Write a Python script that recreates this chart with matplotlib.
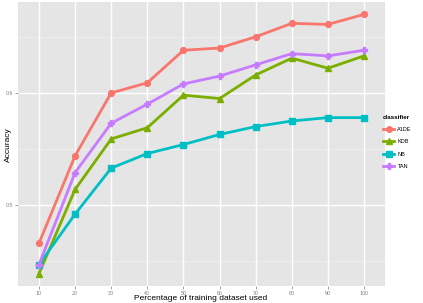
import matplotlib
matplotlib.use("Agg")
import matplotlib.pyplot as plt
from matplotlib.lines import Line2D

pct = [10, 20, 30, 40, 50, 60, 70, 80, 90, 100]
a1de = [0.466, 0.544, 0.600, 0.609, 0.638, 0.640, 0.650, 0.662, 0.661, 0.670]
kdb = [0.439, 0.514, 0.559, 0.569, 0.598, 0.595, 0.616, 0.631, 0.622, 0.633]
nb = [0.447, 0.492, 0.533, 0.546, 0.554, 0.563, 0.570, 0.575, 0.578, 0.578]
tan = [0.447, 0.529, 0.573, 0.590, 0.608, 0.615, 0.625, 0.635, 0.633, 0.638]
names = ["A1DE", "KDB", "NB", "TAN"]
series = [a1de, kdb, nb, tan]
colors = ["#F8766D", "#7CAE00", "#00BFC4", "#C77CFF"]
markers = ["o", "^", "s", "P"]

plt.rcParams["font.family"] = ["Liberation Sans", "DejaVu Sans"]

fig = plt.figure(figsize=(4.23, 3.03), dpi=100)
ax = fig.add_axes([18/423, 1 - 286/303, (385-18)/423, (286-2)/303])
ax.set_facecolor("#E5E5E5")
for s in ax.spines.values():
    s.set_visible(False)

for name, vals, c, m in zip(names, series, colors, markers):
    ax.plot(pct, vals, color=c, lw=2.0, marker=m, ms=4.2, mec=c, mfc=c, label=name, zorder=3)

ax.set_xlim(4.2, 105.8)
ax.set_ylim(0.428, 0.681)
ax.set_xticks(pct)
ax.set_yticks([0.5, 0.6])
ax.set_yticks([0.45, 0.55, 0.65], minor=True)
ax.set_yticklabels(["0.5", "0.6"])
ax.grid(which="major", color="white", lw=1.0, zorder=0)
ax.grid(which="minor", color="#F2F2F2", lw=0.5, zorder=0)
ax.set_axisbelow(True)
ax.tick_params(axis="both", which="major", labelsize=3.8, colors="#7F7F7F", length=2, width=0.5, pad=1.5)
ax.tick_params(axis="both", which="minor", length=0)

fig.text(201/423, 1 - 298.5/303, "Percentage of training dataset used", fontsize=6,
         ha="center", va="center", color="black")
fig.text(8/423, 1 - 145/303, "Accuracy", fontsize=6, rotation=90,
         ha="center", va="center", color="black")

handles = [Line2D([0], [0], color=c, lw=2.0, marker=m, ms=4, mfc=c, mec=c) for c, m in zip(colors, markers)]
leg = fig.legend(handles, names, title="classifier", loc="upper left",
                 bbox_to_anchor=(378/423, 1 - 110/303), frameon=False,
                 fontsize=4, title_fontsize=4.5, handlelength=2, labelspacing=1.3,
                 handletextpad=0.6, alignment="left")
leg.get_title().set_fontweight("bold")

fig.savefig("out.png", dpi=100)
